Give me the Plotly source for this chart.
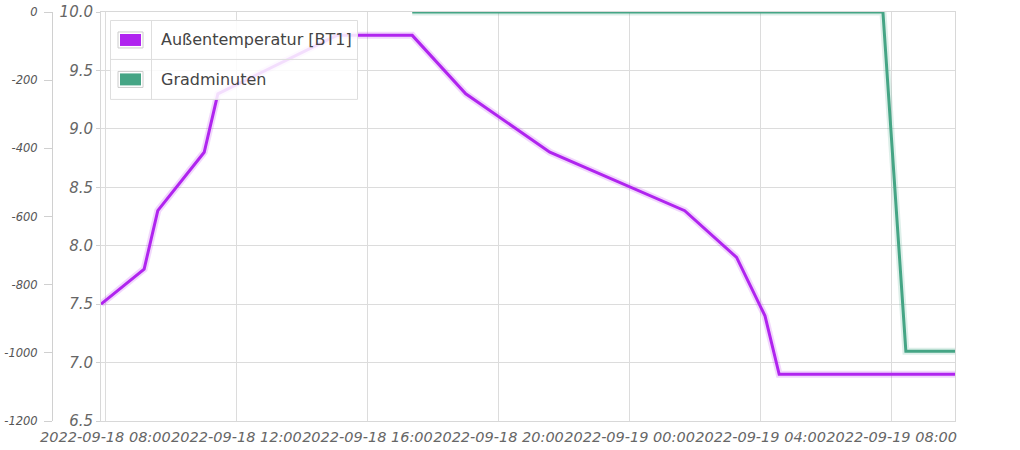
import plotly.graph_objects as go

# ---- data ----
temp_times = ["2022-09-18 07:52", "2022-09-18 09:11", "2022-09-18 09:36", "2022-09-18 11:01",
              "2022-09-18 11:26", "2022-09-18 15:04", "2022-09-18 17:22", "2022-09-18 19:00",
              "2022-09-18 21:34", "2022-09-19 01:41", "2022-09-19 03:16", "2022-09-19 04:08",
              "2022-09-19 04:34", "2022-09-19 09:56"]
temp_vals = [7.5, 7.8, 8.3, 8.8, 9.3, 9.8, 9.8, 9.3, 8.8, 8.3, 7.9, 7.4, 6.9, 6.9]

grad_times = ["2022-09-18 17:22", "2022-09-19 07:44", "2022-09-19 08:26", "2022-09-19 09:56"]
grad_vals = [0, 0, -995, -995]

series_names = ["Außentemperatur [BT1]", "Gradminuten"]
series_colors = ["#b024ef", "#45a585"]

x_range = ["2022-09-18 07:52", "2022-09-19 09:56"]
temp_range = [6.5, 10.0]
grad_range = [-1200, 0]
grad_tickvals = [0, -200, -400, -600, -800, -1000, -1200]
grad_ticktext = ["0", "-200", "-400", "-600", "-800", "-1000", "-1200"]

FONT = "DejaVu Sans"

fig = go.Figure()

# halo / shadow traces
fig.add_trace(go.Scatter(x=temp_times, y=temp_vals, mode="lines", yaxis="y",
                         line=dict(color="rgba(176,36,239,0.18)", width=7),
                         hoverinfo="skip", showlegend=False, cliponaxis=False))
fig.add_trace(go.Scatter(x=grad_times, y=grad_vals, mode="lines", yaxis="y2",
                         line=dict(color="rgba(69,165,133,0.18)", width=7),
                         hoverinfo="skip", showlegend=False, cliponaxis=False))
# main traces
fig.add_trace(go.Scatter(x=temp_times, y=temp_vals, mode="lines", name=series_names[0], yaxis="y",
                         line=dict(color=series_colors[0], width=3), showlegend=False, cliponaxis=False))
fig.add_trace(go.Scatter(x=grad_times, y=grad_vals, mode="lines", name=series_names[1], yaxis="y2",
                         line=dict(color=series_colors[1], width=3), showlegend=False, cliponaxis=False))

W, H = 1020, 450
PLOT_L, PLOT_R = 52, 955
PLOT_T, PLOT_B = 12, 421.5
dom0 = (101 - PLOT_L) / (PLOT_R - PLOT_L)

fig.update_layout(
    width=W, height=H,
    margin=dict(l=PLOT_L, r=W - PLOT_R, t=PLOT_T, b=H - PLOT_B, pad=0),
    paper_bgcolor="white", plot_bgcolor="white",
    showlegend=False,
    xaxis=dict(
        domain=[dom0, 1], type="date", range=x_range,
        dtick=4 * 3600 * 1000, tick0="2022-09-18 00:00",
        tickformat="%Y-%m-%d %H:%M", tickangle=0, automargin=False,
        tickfont=dict(family=FONT, size=14.5, color="#666", style="italic"),
        showgrid=True, gridcolor="#dcdcdc", gridwidth=1,
        showline=True, linecolor="#d8d8d8", linewidth=1, mirror=True,
        ticks="", zeroline=False, ticklabelstandoff=3,
    ),
    yaxis=dict(
        range=temp_range, dtick=0.5, tickformat=".1f", automargin=False,
        tickfont=dict(family=FONT, size=15, color="#666", style="italic"),
        showgrid=True, gridcolor="#dcdcdc", gridwidth=1,
        showline=True, linecolor="#d8d8d8", linewidth=1, mirror=True,
        ticks="outside", ticklen=4, tickcolor="#d0d0d0", zeroline=False,
    ),
    yaxis2=dict(
        range=grad_range, tickvals=grad_tickvals, ticktext=grad_ticktext,
        overlaying="y", side="left",
        anchor="free", position=0, automargin=False,
        tickfont=dict(family=FONT, size=11.5, color="#555", style="italic"),
        showgrid=False, zeroline=False,
        showline=True, linecolor="#d0d0d0", linewidth=1,
        ticks="outside", ticklen=8, tickcolor="#d0d0d0", ticklabelstandoff=4,
    ),
)

# ---- custom table-style legend (pixel coords converted to paper) ----
plot_w = PLOT_R - PLOT_L
plot_h = PLOT_B - PLOT_T


def px(x):
    return (x - PLOT_L) / plot_w


def py(y):
    return 1 - (y - PLOT_T) / plot_h


lg_l, lg_r, lg_t, lg_m, lg_b, lg_v = 110.5, 357.5, 20.5, 59.5, 99.5, 151.5
shapes = [
    dict(type="rect", xref="paper", yref="paper", x0=px(lg_l), x1=px(lg_r), y0=py(lg_b), y1=py(lg_t),
         fillcolor="rgba(255,255,255,0.85)", line=dict(color="#dedede", width=1), layer="above"),
    dict(type="line", xref="paper", yref="paper", x0=px(lg_l), x1=px(lg_r), y0=py(lg_m), y1=py(lg_m),
         line=dict(color="#dedede", width=1), layer="above"),
    dict(type="line", xref="paper", yref="paper", x0=px(lg_v), x1=px(lg_v), y0=py(lg_b), y1=py(lg_t),
         line=dict(color="#dedede", width=1), layer="above"),
]
row_centers = [(lg_t + lg_m) / 2, (lg_m + lg_b) / 2]
annotations = []
for name, col, rc in zip(series_names, series_colors, row_centers):
    shapes.append(dict(type="rect", xref="paper", yref="paper",
                       x0=px(118), x1=px(143), y0=py(rc + 8), y1=py(rc - 8),
                       fillcolor="white", line=dict(color="#cccccc", width=1), layer="above"))
    shapes.append(dict(type="rect", xref="paper", yref="paper",
                       x0=px(120), x1=px(141), y0=py(rc + 6), y1=py(rc - 6),
                       fillcolor=col, line=dict(width=0), layer="above"))
    annotations.append(dict(xref="paper", yref="paper", x=px(159), y=py(rc), text=name,
                            showarrow=False, xanchor="left", yanchor="middle",
                            font=dict(family=FONT, size=16, color="#444")))

fig.update_layout(shapes=shapes, annotations=annotations)

fig.write_html("out.html", config={"displayModeBar": False},
               post_script="document.body.style.margin='0';document.body.style.overflow='hidden';")
